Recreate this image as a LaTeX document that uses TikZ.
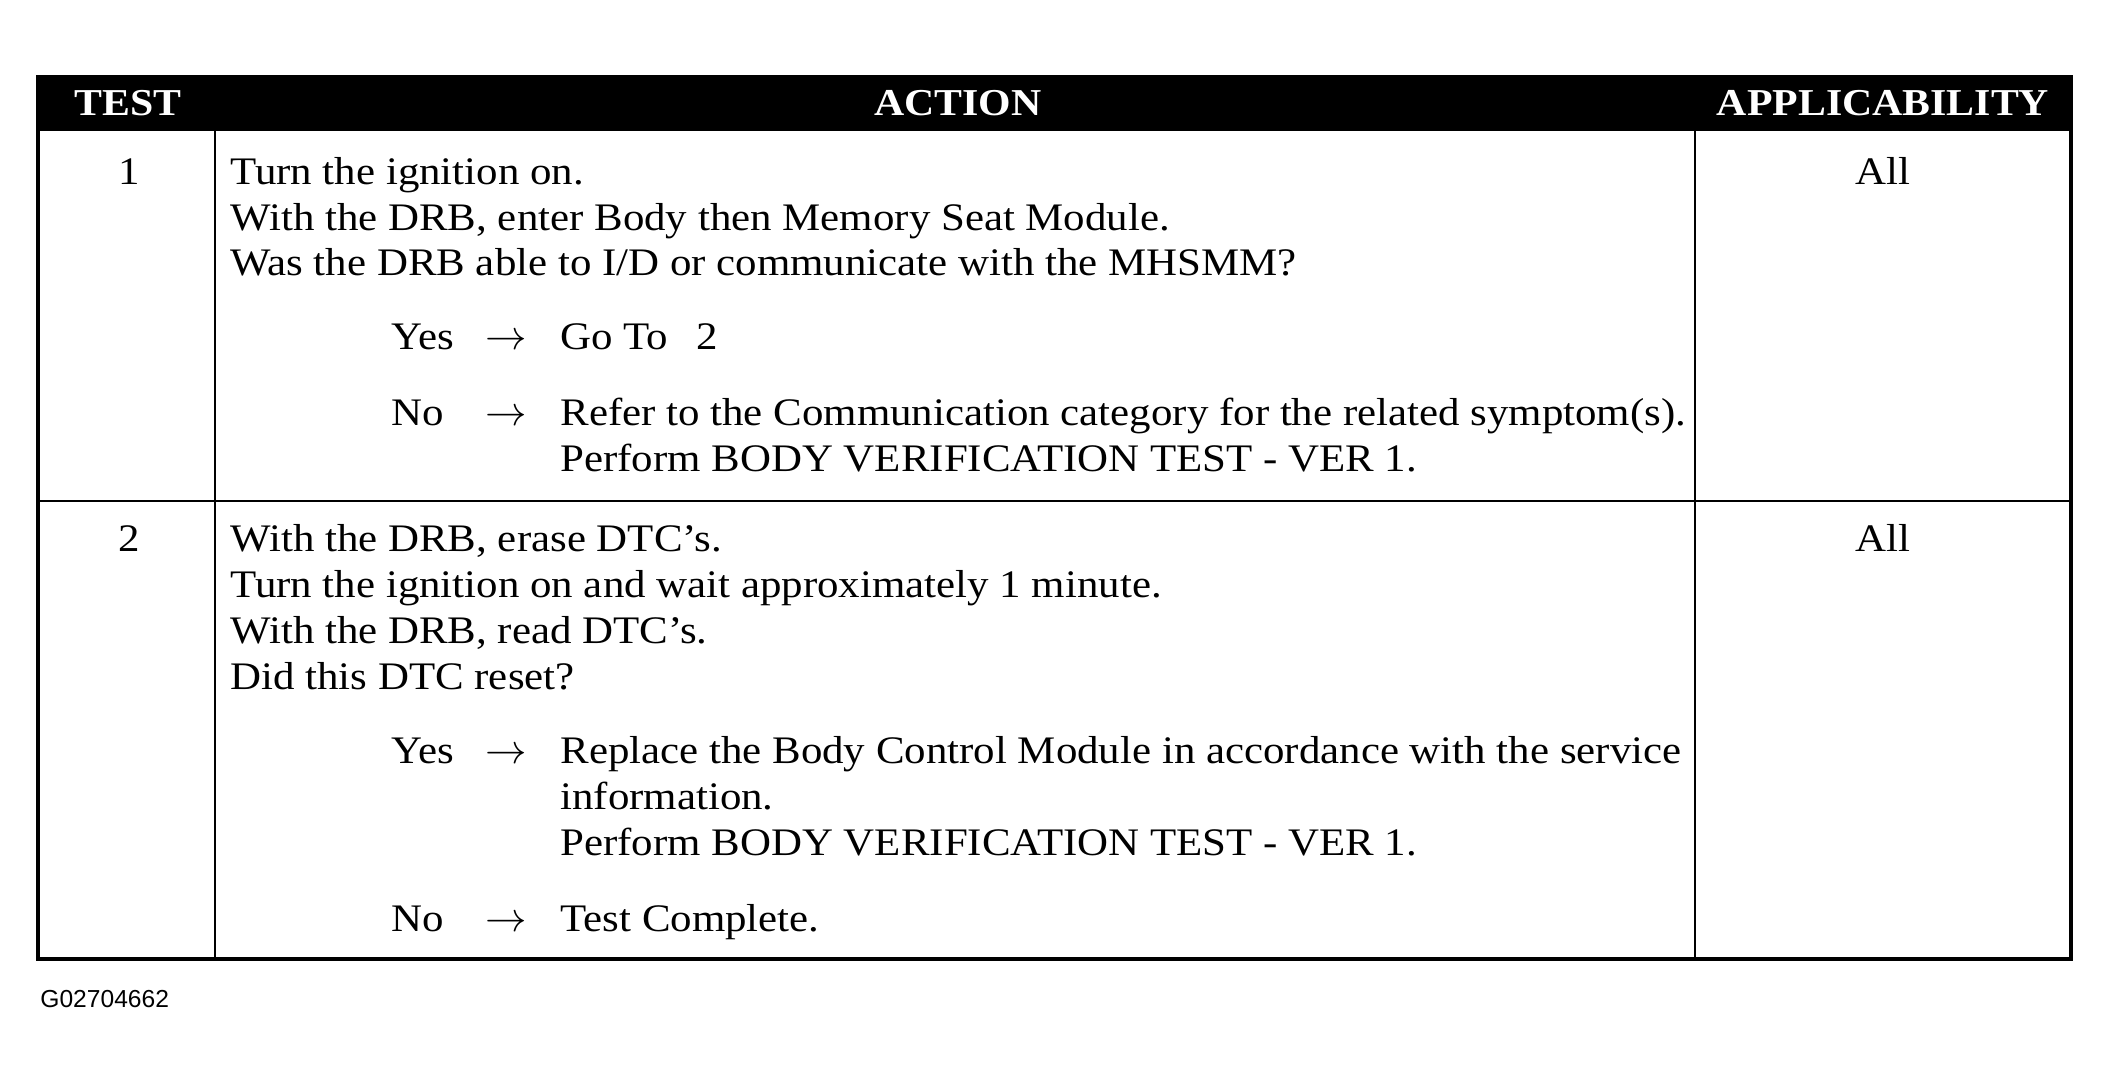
\documentclass[tikz,border=0pt]{standalone}
\usepackage{fontspec}
\setmainfont{Liberation Serif}[FakeStretch=1.1]
\newfontfamily\footfont{Liberation Sans}
\begin{document}
\begin{tikzpicture}[x=0.5pt,y=-0.5pt,
    cell/.style={anchor=base west,inner sep=0pt,font=\fontsize{19.5}{23}\selectfont},
    mid/.style={anchor=base,inner sep=0pt,font=\fontsize{19.5}{23}\selectfont},
    head/.style={anchor=base,inner sep=0pt,text=white,font=\fontsize{19}{22}\selectfont\bfseries}]
\useasboundingbox (0,0) rectangle (2112,1081);

% frame and header band
\fill[black] (38,77) rectangle (2071,131);
\draw[line width=2.2pt] (38,77) rectangle (2071,959);
\draw[line width=1.3pt] (215,131) -- (215,959);
\draw[line width=1.3pt] (1695,131) -- (1695,959);
\draw[line width=1.3pt] (38,501) -- (2071,501);

\node[head] (hTest) at (128,116) {TEST};
\node[head] (hAction) at (958,116) {ACTION};
\node[head] (hAppl) at (1883,116) {APPLICABILITY};

% test 1
\node[mid] (n1) at (129,184) {1};
\node[mid] (a1) at (1883,184) {All};
\node[cell] (s1a) at (230,184) {Turn the ignition on.};
\node[cell] (s1b) at (230,230) {With the DRB, enter Body then Memory Seat Module.};
\node[cell] (s1c) at (230,275) {Was the DRB able to I/D or communicate with the MHSMM?};
\node[cell] (y1) at (391,349) {Yes};
\node[cell] (y1r) at (485,349) {$\rightarrow$};
\node[cell] (y1t) at (560,349) {Go To\hspace{14pt}2};
\node[cell] (o1) at (391,425) {No};
\node[cell] (o1r) at (485,425) {$\rightarrow$};
\node[cell] (o1t) at (560,425) {Refer to the Communication category for the related symptom(s).};
\node[cell] (o1u) at (560,471) {Perform BODY VERIFICATION TEST - VER 1.};

% test 2
\node[mid] (n2) at (129,551) {2};
\node[mid] (a2) at (1883,551) {All};
\node[cell] (s2a) at (230,551) {With the DRB, erase DTC’s.};
\node[cell] (s2b) at (230,597) {Turn the ignition on and wait approximately 1 minute.};
\node[cell] (s2c) at (230,643) {With the DRB, read DTC’s.};
\node[cell] (s2d) at (230,689) {Did this DTC reset?};
\node[cell] (y2) at (391,763) {Yes};
\node[cell] (y2r) at (485,763) {$\rightarrow$};
\node[cell] (y2t) at (560,763) {Replace the Body Control Module in accordance with the service};
\node[cell] (y2u) at (560,809) {information.};
\node[cell] (y2v) at (560,855) {Perform BODY VERIFICATION TEST - VER 1.};
\node[cell] (o2) at (391,931) {No};
\node[cell] (o2r) at (485,931) {$\rightarrow$};
\node[cell] (o2t) at (560,931) {Test Complete.};

\node[anchor=base west,inner sep=0pt,font=\footfont\fontsize{12.3}{14}\selectfont] (ref) at (40,1007) {G02704662};
\end{tikzpicture}
\end{document}
